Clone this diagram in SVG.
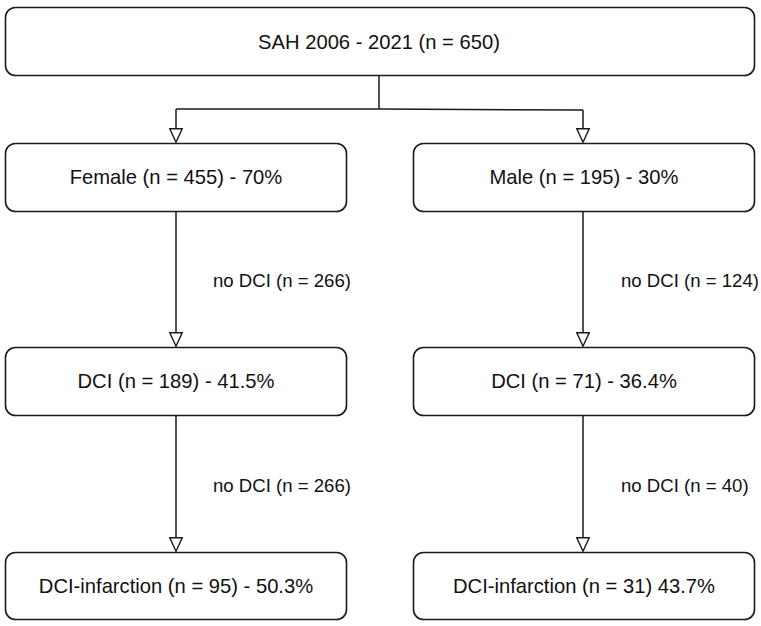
<svg xmlns="http://www.w3.org/2000/svg" width="761" height="626" viewBox="0 0 761 626">
<defs>
<style>
.box{fill:#fff;stroke:#1a1a1a;stroke-width:1.6}
.nt{font-family:"Liberation Sans",Arial,sans-serif;font-size:20.2px;fill:#111;text-anchor:middle;dominant-baseline:central}
.lt{font-family:"Liberation Sans",Arial,sans-serif;font-size:18.6px;fill:#111;dominant-baseline:central}
.ln{fill:none;stroke:#1a1a1a;stroke-width:1.5}
</style>
<marker id="arr" viewBox="0 0 14 15" refX="7" refY="0" markerWidth="14" markerHeight="15" markerUnits="userSpaceOnUse" orient="0">
<path d="M0.8,0.8 L13.2,0.8 L7,14.2 Z" fill="#fff" stroke="#1a1a1a" stroke-width="1.4" stroke-linejoin="miter"/>
</marker>
</defs>
<rect width="761" height="626" fill="#fff"/>
<g id="connectors">
<path class="ln" d="M379,76 L379,109"/>
<path class="ln" d="M176,109 L379,109 L583,110"/>
<path class="ln" d="M176,109 L176,128" marker-end="url(#arr)"/>
<path class="ln" d="M583,110 L583,128" marker-end="url(#arr)"/>
<path class="ln" d="M176,212 L176,332" marker-end="url(#arr)"/>
<path class="ln" d="M583,212 L583,332" marker-end="url(#arr)"/>
<path class="ln" d="M176,416 L176,537" marker-end="url(#arr)"/>
<path class="ln" d="M583,416 L583,537" marker-end="url(#arr)"/>
<text class="lt" x="213" y="280">no DCI (n = 266)</text>
<text class="lt" x="621" y="280">no DCI (n = 124)</text>
<text class="lt" x="213" y="485">no DCI (n = 266)</text>
<text class="lt" x="621" y="485">no DCI (n = 40)</text>
</g>
<g id="n_total">
<rect class="box" x="5.5" y="7.5" width="749" height="68" rx="10"/>
<text class="nt" x="379" y="42">SAH 2006 - 2021 (n = 650)</text>
</g>
<g id="n_female">
<rect class="box" x="5.5" y="143.5" width="341" height="68" rx="10"/>
<text class="nt" x="176" y="177">Female (n = 455) - 70%</text>
</g>
<g id="n_male">
<rect class="box" x="413.5" y="143.5" width="341" height="68" rx="10"/>
<text class="nt" x="584" y="177">Male (n = 195) - 30%</text>
</g>
<g id="n_dci_f">
<rect class="box" x="5.5" y="347.5" width="341" height="68" rx="10"/>
<text class="nt" x="176" y="381">DCI (n = 189) - 41.5%</text>
</g>
<g id="n_dci_m">
<rect class="box" x="413.5" y="347.5" width="341" height="68" rx="10"/>
<text class="nt" x="584" y="381">DCI (n = 71) - 36.4%</text>
</g>
<g id="n_inf_f">
<rect class="box" x="5.5" y="552.5" width="341" height="67" rx="10"/>
<text class="nt" x="176" y="586">DCI-infarction (n = 95) - 50.3%</text>
</g>
<g id="n_inf_m">
<rect class="box" x="413.5" y="552.5" width="341" height="67" rx="10"/>
<text class="nt" x="584" y="586">DCI-infarction (n = 31) 43.7%</text>
</g>
</svg>
